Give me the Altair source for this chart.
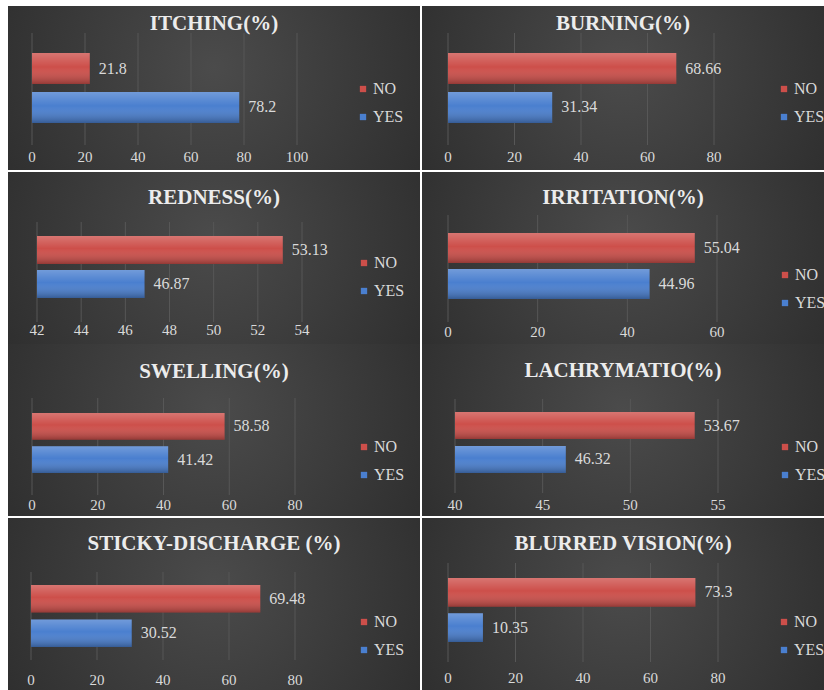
import altair as alt
import pandas as pd

# ---------------- data ----------------
titles = ["ITCHING(%)", "BURNING(%)", "REDNESS(%)", "IRRITATION(%)",
          "SWELLING(%)", "LACHRYMATIO(%)", "STICKY-DISCHARGE (%)", "BLURRED VISION(%)"]
categories = ["NO", "YES"]
no_values = [21.8, 68.66, 53.13, 55.04, 58.58, 53.67, 69.48, 73.3]
yes_values = [78.2, 31.34, 46.87, 44.96, 41.42, 46.32, 30.52, 10.35]
axis_mins = [0, 0, 42, 0, 0, 40, 0, 0]
axis_maxs = [100, 80, 54, 60, 80, 55, 80, 80]
tick_labels = [
    [0, 20, 40, 60, 80, 100],
    [0, 20, 40, 60, 80],
    [42, 44, 46, 48, 50, 52, 54],
    [0, 20, 40, 60],
    [0, 20, 40, 60, 80],
    [40, 45, 50, 55],
    [0, 20, 40, 60, 80],
    [0, 20, 40, 60, 80],
]

# ---------------- layout / style ----------------
# panel boxes in view coordinates: (x0, y0, w, h)
col_x = [0, 414]
col_w = [412, 402]
row_y = [0, 166, 338, 512]
row_h = [164, 172, 172, 172]
# positions inside each panel
layouts = [
    dict(xr=[24, 289], bars=[47, 117], pi=0.2, grid=[27, 139], lab=151, ty=18, lx=347, ly=83),
    dict(xr=[26, 292], bars=[47, 117], pi=0.2, grid=[27, 139], lab=151, ty=18, lx=354, ly=83),
    dict(xr=[29, 294], bars=[64, 126], pi=0.18, grid=[50, 150], lab=158, ty=26, lx=348, ly=91),
    dict(xr=[26, 295], bars=[61, 127], pi=0.17, grid=[43, 150], lab=160, ty=26, lx=355, ly=103),
    dict(xr=[24, 287], bars=[69, 129], pi=0.2, grid=[54, 151], lab=161, ty=28, lx=348, ly=103),
    dict(xr=[33, 296], bars=[68, 129], pi=0.2, grid=[55, 149], lab=161, ty=27, lx=355, ly=103),
    dict(xr=[23, 287], bars=[67, 129], pi=0.2, grid=[54, 142], lab=162, ty=26, lx=348, ly=104),
    dict(xr=[26, 296], bars=[60, 124], pi=0.18, grid=[45, 144], lab=160, ty=26, lx=354, ly=104),
]

RED = "#cd4f4a"
BLUE = "#4a7fcf"
GRID = "#575757"
TXT = "#dadada"
SERIF = "Liberation Serif"

BG = {"gradient": "radial", "x1": 0.5, "y1": 0.45, "r1": 0,
      "x2": 0.5, "y2": 0.45, "r2": 0.75,
      "stops": [{"offset": 0, "color": "#4b4b4b"}, {"offset": 1, "color": "#262626"}]}
SHADE = {"gradient": "linear", "x1": 0, "y1": 0, "x2": 0, "y2": 1,
         "stops": [{"offset": 0, "color": "rgba(255,255,255,0.22)"},
                   {"offset": 0.45, "color": "rgba(255,255,255,0.0)"},
                   {"offset": 1, "color": "rgba(0,0,0,0.28)"}]}


def panel(i):
    L = layouts[i]
    x0, w = col_x[i % 2], col_w[i % 2]
    y0, h = row_y[i // 2], row_h[i // 2]
    df = pd.DataFrame({"category": categories, "value": [no_values[i], yes_values[i]]})
    gdf = pd.DataFrame({"tick": tick_labels[i]})
    bgdf = pd.DataFrame({"panel": [titles[i]]})
    xscale = alt.Scale(domain=[axis_mins[i], axis_maxs[i]],
                       range=[x0 + L["xr"][0], x0 + L["xr"][1]], nice=False, zero=False)
    yscale = alt.Scale(domain=categories, range=[y0 + L["bars"][0], y0 + L["bars"][1]],
                       paddingInner=L["pi"], paddingOuter=0)
    cscale = alt.Scale(domain=categories, range=[RED, BLUE])
    X = alt.X("value:Q", scale=xscale, axis=None)
    Y = alt.Y("category:N", scale=yscale, axis=None)

    bg = alt.Chart(bgdf).mark_rect(fill=BG, strokeWidth=0).encode(
        x=alt.value(x0), x2=alt.value(x0 + w), y=alt.value(y0), y2=alt.value(y0 + h),
    )
    title = alt.Chart(bgdf).mark_text(font=SERIF, fontSize=21, fontWeight="bold", color="#ececec",
                                      align="center", baseline="middle").encode(
        x=alt.value(x0 + w / 2), y=alt.value(y0 + L["ty"]), text=alt.Text("panel:N"),
    )
    grid = alt.Chart(gdf).mark_rule(color=GRID, strokeWidth=1).encode(
        x=alt.X("tick:Q", scale=xscale, axis=None),
        y=alt.value(y0 + L["grid"][0]),
        y2=alt.value(y0 + L["grid"][1]),
    )
    ticklab = alt.Chart(gdf).mark_text(font=SERIF, fontSize=15, color=TXT,
                                       align="center", baseline="middle").encode(
        x=alt.X("tick:Q", scale=xscale, axis=None),
        y=alt.value(y0 + L["lab"]),
        text=alt.Text("tick:Q"),
    )
    bars = alt.Chart(df).mark_bar().encode(
        x=X, x2=alt.datum(axis_mins[i]), y=Y,
        color=alt.Color("category:N", scale=cscale,
                        legend=alt.Legend(orient="none", legendX=x0 + L["lx"],
                                          legendY=y0 + L["ly"] - 8,
                                          title=None, symbolType="square", symbolSize=40,
                                          symbolStrokeWidth=0, labelFont=SERIF, labelFontSize=16,
                                          labelColor=TXT, rowPadding=12, labelOffset=2, padding=0)),
    )
    shade = alt.Chart(df).mark_bar(fill=SHADE).encode(x=X, x2=alt.datum(axis_mins[i]), y=Y)
    labels = alt.Chart(df).mark_text(align="left", baseline="middle", dx=9, font=SERIF,
                                     fontSize=16, color=TXT).encode(
        x=X, y=Y, text=alt.Text("value:Q"),
    )
    return alt.layer(bg, title, grid, ticklab, bars, shade, labels)


panels = [panel(i) for i in range(8)]

chart = alt.layer(*panels).resolve_scale(
    x="independent", y="independent", color="independent"
).resolve_legend(color="independent").properties(
    width=816, height=684,
    background="white",
    padding={"left": 8, "top": 6, "right": 0, "bottom": 0},
    autosize=alt.AutoSizeParams(type="none"),
).configure_view(fill="white", stroke=None).configure_legend(labelFont=SERIF, labelColor=TXT)

chart.save("out.html", embed_options={"renderer": "svg", "actions": False})
